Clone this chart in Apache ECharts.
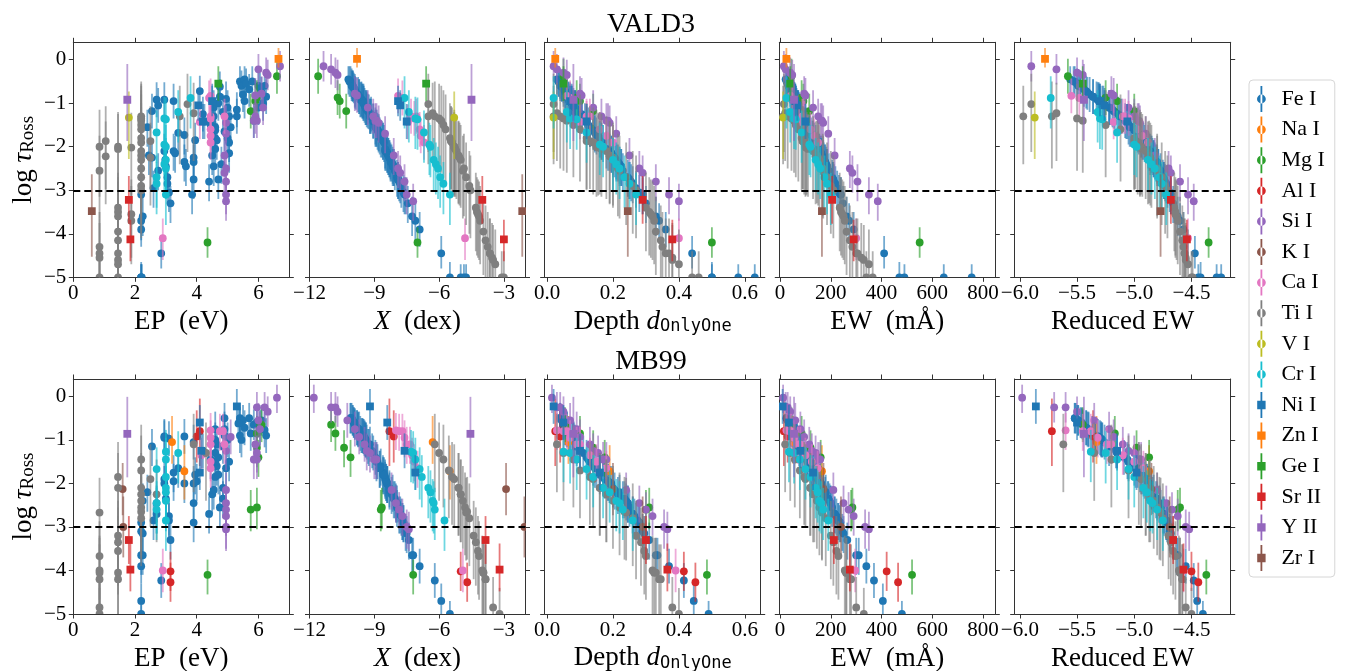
<!DOCTYPE html>
<html><head><meta charset="utf-8">
<script src="https://cdn.jsdelivr.net/npm/echarts@6/dist/echarts.min.js"></script>
<style>html,body{margin:0;padding:0;background:#fff}#c{width:1347px;height:671px}</style>
</head><body><div id="c"></div>
<script>
// Each line: [EP (eV), X (dex), depth d_OnlyOne, EW (mA), reduced EW, log tau_Ross, err down, err up]
const species = ['Fe I','Na I','Mg I','Al I','Si I','K I','Ca I','Ti I','V I','Cr I','Ni I','Zn I','Ge I','Sr II','Y II','Zr I'];
const colors = ['#1f77b4','#ff7f0e','#2ca02c','#d62728','#9467bd','#8c564b','#e377c2','#7f7f7f','#bcbd22','#17becf','#1f77b4','#ff7f0e','#2ca02c','#d62728','#9467bd','#8c564b'];
const markers = ['circle','circle','circle','circle','circle','circle','circle','circle','circle','circle','square','square','square','square','square','square'];
const xTitles = ['EP  (eV)','{i|X}  (dex)','Depth {i|d}{s|OnlyOne}','EW  (mÅ)','Reduced EW'];
const xTickValues = [[0,2,4,6],[-12,-9,-6,-3],[0,0.2,0.4,0.6],[0,200,400,600,800],[-6,-5.5,-5,-4.5]];
const xMinValues = [0,-12,-0.007,-3,-6.045];
const xMaxValues = [7,-2,0.648,848,-4.157];
const yTickValues = [-5,-4,-3,-2,-1,0];
const yMinValue = -5, yMaxValue = 0.4, refLevel = -3;
const rowTitles = ['VALD3','MB99'];

// ---------------- VALD3 ----------------
const vald_FeI = [
[2.20,-7.60,0.29,238,-4.68,-3.10,0.45,0.40],[2.20,-7.10,0.34,272,-4.60,-3.70,0.45,0.40],[2.20,-6.90,0.36,290,-4.57,-3.90,0.40,0.40],
[2.25,-7.25,0.33,262,-4.62,-3.60,0.45,0.45],[2.20,-5.50,0.50,470,-4.42,-5.00,0.30,0.35],[2.20,-5.00,0.50,490,-4.44,-5.00,0.30,0.30],
[2.20,-4.85,0.58,645,-4.28,-5.00,0.30,0.30],[2.22,-4.75,0.63,755,-4.24,-5.00,0.30,0.30],[2.40,-8.90,0.13,108,-5.02,-1.55,0.45,0.40],
[2.45,-8.35,0.20,165,-4.84,-2.20,0.45,0.40],[2.55,-9.30,0.09,76,-5.18,-1.18,0.40,0.40],[2.55,-8.30,0.205,168,-4.83,-2.25,0.45,0.40],
[2.70,-9.60,0.065,56,-5.32,-0.92,0.40,0.40],[2.75,-9.45,0.08,65,-5.26,-1.05,0.40,0.40],[2.75,-8.05,0.23,192,-4.77,-2.55,0.45,0.40],
[2.85,-5.90,0.44,410,-4.47,-4.45,0.35,0.40],[2.95,-9.65,0.07,57,-5.31,-0.92,0.40,0.40],[2.95,-8.45,0.19,155,-4.86,-2.10,0.45,0.40],
[2.98,-8.25,0.21,172,-4.82,-2.30,0.45,0.40],[3.05,-7.95,0.245,205,-4.75,-2.70,0.45,0.40],[3.05,-7.80,0.26,218,-4.72,-2.85,0.45,0.40],
[3.10,-7.65,0.28,232,-4.69,-3.05,0.45,0.40],[3.25,-9.55,0.07,60,-5.30,-0.95,0.40,0.40],[3.25,-8.50,0.185,152,-4.87,-2.10,0.45,0.40],
[3.30,-8.40,0.195,160,-4.85,-2.15,0.45,0.40],[3.60,-8.75,0.15,122,-4.96,-1.73,0.45,0.40],[3.60,-8.20,0.215,178,-4.80,-2.35,0.45,0.40],
[3.65,-8.15,0.22,185,-4.79,-2.45,0.45,0.40],[3.90,-8.30,0.20,170,-4.83,-2.25,0.45,0.40],[3.90,-8.25,0.21,176,-4.81,-2.35,0.45,0.40],
[3.90,-7.90,0.25,210,-4.74,-2.75,0.45,0.40],[3.85,-7.55,0.29,240,-4.68,-3.10,0.45,0.40],[4.10,-9.90,0.055,42,-5.42,-0.72,0.40,0.35],
[4.25,-9.05,0.12,97,-5.07,-1.42,0.40,0.40],[4.50,-9.50,0.075,60,-5.30,-0.95,0.40,0.40],[4.55,-9.40,0.085,70,-5.22,-1.10,0.40,0.40],
[4.55,-9.20,0.105,88,-5.12,-1.30,0.40,0.40],[4.60,-8.90,0.13,106,-5.03,-1.55,0.45,0.40],[4.60,-8.85,0.14,114,-5.00,-1.62,0.45,0.40],
[4.60,-8.65,0.16,130,-4.94,-1.80,0.45,0.40],[4.60,-8.50,0.18,150,-4.88,-2.05,0.45,0.40],[4.55,-8.10,0.225,186,-4.79,-2.45,0.45,0.40],
[4.75,-10.00,0.045,36,-5.47,-0.62,0.35,0.35],[4.75,-9.70,0.06,50,-5.36,-0.85,0.40,0.40],[4.70,-9.50,0.075,62,-5.28,-1.00,0.40,0.40],
[4.80,-8.15,0.22,182,-4.80,-2.40,0.45,0.40],[4.70,-7.90,0.25,208,-4.74,-2.75,0.45,0.40],[4.95,-9.60,0.065,54,-5.33,-0.90,0.40,0.40],
[5.00,-9.35,0.085,72,-5.21,-1.10,0.40,0.40],[5.05,-9.15,0.105,90,-5.11,-1.30,0.40,0.40],[5.00,-8.70,0.16,128,-4.94,-1.80,0.45,0.40],
[5.05,-8.40,0.195,162,-4.85,-2.15,0.45,0.40],[5.05,-8.55,0.17,140,-4.91,-1.90,0.45,0.40],[5.30,-9.35,0.09,75,-5.19,-1.15,0.40,0.40],
[5.30,-9.20,0.10,86,-5.13,-1.30,0.40,0.40],[5.40,-10.10,0.035,26,-5.52,-0.50,0.35,0.35],[5.45,-10.00,0.045,34,-5.48,-0.60,0.35,0.35],
[5.55,-10.20,0.03,22,-5.56,-0.45,0.35,0.30],[5.60,-10.05,0.04,30,-5.50,-0.55,0.35,0.35],[5.55,-9.55,0.07,58,-5.31,-0.95,0.40,0.40],
[5.80,-10.15,0.035,27,-5.53,-0.50,0.35,0.35],[5.85,-9.05,0.115,95,-5.08,-1.40,0.40,0.40],[6.00,-10.00,0.04,33,-5.49,-0.60,0.35,0.35],
[6.05,-9.95,0.05,38,-5.45,-0.65,0.35,0.35],[6.10,-9.85,0.055,44,-5.41,-0.75,0.40,0.35],[6.15,-9.50,0.075,63,-5.27,-1.00,0.40,0.40],
[6.20,-10.05,0.045,35,-5.47,-0.60,0.35,0.35],[6.00,-9.40,0.085,70,-5.22,-1.10,0.40,0.40],
[4.45,-8.95,0.125,102,-5.05,-1.50,0.45,0.40],[4.65,-8.60,0.165,135,-4.92,-1.85,0.45,0.40],[4.50,-8.35,0.20,160,-4.86,-2.20,0.45,0.40],
[4.85,-9.25,0.095,80,-5.17,-1.20,0.40,0.40],[5.10,-8.95,0.13,104,-5.04,-1.55,0.45,0.40],[3.00,-8.10,0.225,183,-4.80,-2.45,0.45,0.40],
[3.95,-8.60,0.165,133,-4.93,-1.85,0.45,0.40],[3.40,-8.80,0.145,118,-4.97,-1.68,0.45,0.40],[4.20,-9.15,0.105,85,-5.14,-1.25,0.40,0.40],
[5.50,-9.75,0.06,46,-5.39,-0.80,0.40,0.40],[5.70,-9.90,0.05,40,-5.44,-0.68,0.40,0.35],[6.25,-9.70,0.06,50,-5.36,-0.85,0.40,0.40],
[2.60,-7.75,0.27,225,-4.71,-2.95,0.45,0.40],[3.15,-7.45,0.30,248,-4.66,-3.30,0.45,0.40],[4.40,-7.85,0.255,212,-4.73,-2.80,0.45,0.40],
[4.90,-8.80,0.145,118,-4.97,-1.65,0.45,0.40]
];
const vald_NaI = [];
const vald_MgI = [
[6.60,-11.60,0.05,45,-5.58,-0.38,0.40,0.40],[5.95,-10.70,0.09,85,-5.25,-0.87,0.40,0.40],[5.90,-10.60,0.10,92,-5.15,-0.95,0.40,0.40],
[5.75,-10.30,0.14,115,-5.00,-1.18,0.40,0.40],[4.35,-7.00,0.50,550,-4.35,-4.20,0.35,0.35]
];
const vald_AlI = [];
const vald_SiI = [
[6.70,-11.35,0.02,15,-5.90,-0.15,0.35,0.35],[6.00,-11.00,0.03,22,-5.68,-0.22,0.35,0.35],[6.25,-10.80,0.05,40,-5.50,-0.30,0.35,0.35],
[6.30,-10.70,0.06,48,-5.45,-0.35,0.35,0.35],[6.10,-9.90,0.10,95,-5.20,-0.78,0.40,0.40],[5.90,-9.80,0.105,100,-5.18,-0.82,0.40,0.40],
[6.15,-9.30,0.14,130,-5.05,-1.10,0.40,0.40],[5.90,-9.05,0.165,150,-5.00,-1.30,0.40,0.40],[5.95,-8.95,0.18,160,-4.97,-1.40,0.40,0.40],
[5.85,-8.90,0.185,165,-4.96,-1.40,0.40,0.40],[4.95,-8.80,0.19,170,-4.95,-1.45,0.45,0.40],[4.95,-8.50,0.21,190,-4.90,-1.70,0.45,0.40],
[4.90,-8.10,0.25,215,-4.82,-2.20,0.45,0.40],[4.95,-7.90,0.28,275,-4.70,-2.50,0.45,0.40],[4.90,-7.80,0.29,285,-4.68,-2.60,0.45,0.40],
[4.95,-7.60,0.33,305,-4.60,-2.80,0.45,0.40],[4.95,-7.50,0.37,350,-4.53,-3.10,0.45,0.40],[4.95,-7.20,0.40,385,-4.48,-3.25,0.45,0.40]
];
const vald_KI = [];
const vald_CaI = [
[4.45,-7.90,0.06,42,-5.55,-0.83,0.40,0.40],[4.40,-7.70,0.07,48,-5.48,-0.88,0.40,0.40],[4.10,-7.45,0.10,75,-5.18,-1.43,0.40,0.40],
[4.45,-7.30,0.12,88,-5.10,-1.30,0.40,0.40],[4.90,-7.05,0.13,92,-5.08,-1.30,0.40,0.40],[4.45,-7.15,0.12,95,-5.05,-1.35,0.40,0.40],
[4.45,-6.90,0.16,120,-4.97,-1.60,0.40,0.40],[4.45,-6.85,0.18,135,-4.93,-1.75,0.40,0.40],[4.45,-6.70,0.20,150,-4.88,-1.90,0.40,0.40],
[2.90,-4.80,0.40,300,-4.53,-4.10,0.50,0.45]
];
const vald_TiI = [
[0.85,-5.30,0.15,100,-4.95,-2.00,1.15,0.85],[0.85,-4.90,0.22,170,-4.80,-2.55,1.10,0.80],[0.85,-3.75,0.35,285,-4.57,-4.30,1.00,0.80],
[0.85,-3.65,0.36,300,-4.56,-4.45,1.00,0.80],[0.85,-3.55,0.38,320,-4.55,-4.55,1.00,0.80],[0.85,-3.00,0.44,340,-4.50,-5.00,1.00,0.60],
[1.05,-5.45,0.13,88,-5.00,-1.87,1.10,0.80],[1.05,-5.10,0.19,140,-4.88,-2.22,1.10,0.80],[1.45,-5.30,0.16,105,-4.94,-2.00,1.10,0.80],
[1.45,-5.25,0.165,110,-4.93,-2.05,1.10,0.80],[1.45,-4.30,0.30,235,-4.65,-3.40,1.00,0.80],[1.45,-4.25,0.31,240,-4.64,-3.50,1.00,0.80],
[1.45,-4.15,0.32,250,-4.63,-3.60,1.00,0.80],[1.45,-3.95,0.33,262,-4.60,-3.95,1.00,0.80],[1.45,-3.85,0.345,275,-4.58,-4.15,1.00,0.80],
[1.45,-3.65,0.37,305,-4.56,-4.45,1.00,0.80],[1.45,-3.50,0.38,330,-4.55,-4.60,1.00,0.80],[1.45,-3.40,0.40,350,-4.53,-4.70,1.00,0.80],
[1.45,-3.10,0.46,365,-4.49,-5.00,1.00,0.60],[1.88,-5.30,0.155,102,-4.95,-2.02,1.10,0.80],[1.88,-4.20,0.315,245,-4.64,-3.55,1.00,0.80],
[1.88,-4.10,0.325,255,-4.62,-3.70,1.00,0.80],[2.20,-6.20,0.04,30,-5.72,-1.30,1.20,0.80],[2.20,-6.00,0.05,45,-5.50,-1.35,1.20,0.80],
[2.20,-5.90,0.06,55,-5.45,-1.40,1.20,0.80],[2.20,-5.80,0.08,62,-5.25,-1.50,1.20,0.80],[2.20,-5.70,0.10,72,-5.12,-1.60,1.20,0.80],
[2.20,-5.50,0.12,85,-5.00,-1.80,1.20,0.80],[2.20,-5.40,0.14,95,-4.97,-1.90,1.20,0.80],[2.20,-5.20,0.18,130,-4.90,-2.10,1.10,0.80],
[2.20,-5.10,0.19,145,-4.87,-2.20,1.10,0.80],[2.20,-5.00,0.20,155,-4.85,-2.30,1.10,0.80],[2.20,-4.85,0.215,168,-4.80,-2.50,1.10,0.80],
[2.20,-4.75,0.24,185,-4.76,-2.70,1.10,0.80],[2.20,-4.60,0.26,200,-4.73,-2.90,1.10,0.80],[2.20,-4.55,0.27,210,-4.71,-3.00,1.10,0.80],
[2.50,-5.45,0.12,90,-4.99,-1.87,1.10,0.80],[2.50,-5.05,0.20,150,-4.86,-2.25,1.10,0.80],[3.70,-6.50,0.02,15,-5.90,-1.02,1.10,0.70],
[3.45,-6.50,0.02,12,-5.97,-1.30,1.10,0.70],[3.90,-6.30,0.03,20,-5.68,-1.23,1.10,0.70]
];
const vald_VI = [[1.80,-5.30,0.02,12,-5.87,-1.33,0.95,0.60]];
const vald_CrI = [
[3.80,-7.60,0.02,25,-5.73,-0.88,0.70,0.50],[3.40,-7.40,0.06,40,-5.32,-1.20,0.70,0.50],[2.95,-7.10,0.07,55,-5.30,-1.35,0.70,0.50],
[3.00,-7.00,0.09,62,-5.28,-1.37,0.70,0.50],[2.70,-6.70,0.12,85,-5.15,-1.67,0.70,0.50],[2.95,-6.45,0.16,115,-5.00,-1.95,0.70,0.50],
[3.00,-6.40,0.17,120,-4.98,-2.00,0.70,0.50],[3.00,-6.25,0.20,140,-4.88,-2.30,0.70,0.50],[2.95,-6.15,0.21,150,-4.85,-2.40,0.70,0.50],
[3.00,-6.05,0.22,158,-4.82,-2.50,0.70,0.50],[2.70,-5.95,0.235,175,-4.78,-2.70,0.70,0.50],[2.70,-5.80,0.25,185,-4.76,-2.85,0.70,0.50],
[3.00,-5.50,0.27,200,-4.72,-3.10,0.70,0.50]
];
const vald_NiI = [[4.50,-7.90,0.07,60,-5.30,-0.95,0.35,0.35],[4.05,-7.80,0.08,68,-5.26,-1.05,0.35,0.35],[4.20,-7.50,0.12,100,-5.06,-1.42,0.40,0.40]];
const vald_ZnI = [[6.65,-9.80,0.025,25,-5.78,0.02,0.20,0.25]];
const vald_GeI = [[4.70,-6.60,0.05,40,-5.45,-0.55,0.40,0.40]];
const vald_SrII = [[1.80,-4.00,0.29,205,-4.68,-3.22,0.55,0.55],[1.85,-3.00,0.38,290,-4.54,-4.13,0.50,0.45]];
const vald_YII = [[1.75,-4.50,0.08,55,-5.44,-0.92,0.95,0.82]];
const vald_ZrI = [[0.60,-2.15,0.245,165,-4.77,-3.48,1.05,0.85]];

// ---------------- MB99 ----------------
const mb_FeI = [
[2.20,-7.65,0.28,235,-4.71,-2.90,0.45,0.40],[2.20,-7.55,0.29,245,-4.69,-3.10,0.45,0.40],[2.20,-7.20,0.335,310,-4.62,-3.65,0.45,0.40],
[2.20,-6.90,0.37,340,-4.55,-3.90,0.40,0.40],[2.20,-5.90,0.445,405,-4.45,-4.70,0.35,0.40],[2.20,-5.50,0.49,480,-4.40,-5.00,0.30,0.30],
[2.25,-8.00,0.24,195,-4.80,-2.40,0.45,0.40],[2.25,-7.50,0.295,250,-4.68,-3.15,0.45,0.40],[2.25,-7.25,0.33,300,-4.63,-3.65,0.45,0.40],
[2.40,-8.15,0.22,180,-4.83,-2.20,0.45,0.40],[2.55,-9.25,0.09,75,-5.22,-1.15,0.45,0.40],[2.70,-7.95,0.245,198,-4.78,-2.45,0.45,0.40],
[2.70,-7.80,0.26,215,-4.75,-2.70,0.45,0.40],[2.85,-6.20,0.415,370,-4.48,-4.23,0.40,0.40],[2.95,-9.50,0.07,58,-5.32,-0.92,0.40,0.40],
[2.95,-9.45,0.075,62,-5.30,-0.95,0.40,0.40],[2.95,-8.50,0.175,148,-4.91,-1.90,0.45,0.40],[2.95,-8.40,0.19,160,-4.88,-2.00,0.45,0.40],
[3.10,-9.45,0.08,64,-5.29,-0.97,0.40,0.40],[3.10,-7.75,0.265,222,-4.74,-2.75,0.45,0.40],[3.10,-7.70,0.275,230,-4.72,-2.85,0.45,0.40],
[3.25,-8.60,0.16,135,-4.95,-1.75,0.45,0.40],[3.25,-8.45,0.185,155,-4.89,-1.95,0.45,0.40],[3.60,-9.50,0.07,58,-5.32,-0.92,0.40,0.40],
[3.60,-8.40,0.19,160,-4.88,-2.00,0.45,0.40],[3.90,-9.35,0.085,68,-5.26,-1.05,0.40,0.40],[3.90,-8.40,0.195,162,-4.87,-2.00,0.45,0.40],
[3.90,-8.00,0.245,200,-4.78,-2.45,0.45,0.40],[3.90,-7.65,0.28,238,-4.71,-2.90,0.45,0.40],[4.00,-8.45,0.185,156,-4.89,-1.95,0.45,0.40],
[4.50,-8.20,0.215,178,-4.84,-2.25,0.45,0.40],[4.60,-9.70,0.06,45,-5.40,-0.75,0.40,0.40],[4.60,-9.40,0.08,65,-5.28,-1.00,0.40,0.40],
[4.60,-9.05,0.11,90,-5.15,-1.30,0.40,0.40],[4.60,-8.85,0.13,110,-5.05,-1.50,0.40,0.40],[4.60,-8.50,0.17,145,-4.92,-1.85,0.45,0.40],
[4.65,-9.20,0.095,78,-5.20,-1.10,0.40,0.40],[4.65,-8.70,0.14,120,-5.00,-1.60,0.45,0.40],[4.75,-7.95,0.25,205,-4.77,-2.55,0.45,0.40],
[4.85,-8.30,0.20,170,-4.86,-2.10,0.45,0.40],[4.85,-8.10,0.23,188,-4.81,-2.35,0.45,0.40],[4.90,-10.10,0.04,25,-5.52,-0.50,0.35,0.35],
[4.90,-9.75,0.06,44,-5.41,-0.75,0.40,0.40],[4.90,-9.55,0.07,55,-5.34,-0.90,0.40,0.40],[5.00,-9.40,0.08,66,-5.28,-1.00,0.40,0.40],
[5.40,-10.05,0.04,27,-5.51,-0.50,0.35,0.35],[5.40,-9.95,0.05,34,-5.47,-0.60,0.35,0.35],[5.40,-9.55,0.07,54,-5.34,-0.90,0.40,0.40],
[5.45,-9.40,0.08,64,-5.29,-1.00,0.40,0.40],[5.50,-10.00,0.045,30,-5.49,-0.55,0.35,0.35],[5.70,-10.10,0.04,26,-5.52,-0.50,0.35,0.35],
[5.85,-9.90,0.05,37,-5.45,-0.65,0.35,0.35],[6.10,-10.00,0.045,31,-5.49,-0.55,0.35,0.35],[6.20,-9.75,0.06,46,-5.40,-0.77,0.40,0.40],
[5.95,-9.95,0.05,35,-5.46,-0.60,0.35,0.35],[6.05,-9.80,0.055,42,-5.42,-0.72,0.40,0.40],[4.70,-8.95,0.12,100,-5.09,-1.40,0.40,0.40],
[4.45,-8.90,0.125,105,-5.06,-1.45,0.45,0.40],[4.70,-8.60,0.16,140,-4.94,-1.80,0.45,0.40],[4.55,-8.30,0.205,170,-4.85,-2.15,0.45,0.40],
[4.85,-9.30,0.09,78,-5.20,-1.15,0.40,0.40],[5.05,-8.90,0.13,108,-5.05,-1.50,0.45,0.40],[3.00,-8.05,0.235,190,-4.80,-2.35,0.45,0.40],
[3.95,-8.55,0.17,140,-4.93,-1.80,0.45,0.40],[3.40,-8.75,0.15,122,-4.97,-1.65,0.45,0.40],[4.20,-9.10,0.10,85,-5.16,-1.25,0.40,0.40],
[5.55,-9.80,0.055,42,-5.42,-0.72,0.40,0.40],[5.75,-9.65,0.065,50,-5.37,-0.85,0.40,0.40],[6.25,-9.60,0.07,55,-5.34,-0.90,0.40,0.40],
[2.60,-7.70,0.27,228,-4.72,-2.85,0.45,0.40],[3.15,-7.40,0.31,265,-4.66,-3.30,0.45,0.40],[4.40,-7.85,0.26,215,-4.74,-2.70,0.45,0.40],
[4.95,-8.75,0.145,125,-4.99,-1.65,0.45,0.40],[5.35,-9.90,0.05,36,-5.46,-0.62,0.35,0.35]
];
const mb_NaI = [[3.20,-6.30,0.065,52,-5.33,-1.05,0.50,0.60],[3.60,-5.50,0.19,165,-4.87,-1.72,0.65,0.60]];
const mb_MgI = [
[6.10,-11.00,0.055,45,-5.45,-0.65,0.40,0.40],[5.95,-10.80,0.10,85,-5.17,-0.85,0.40,0.40],[5.95,-10.40,0.14,120,-4.98,-1.18,0.45,0.40],
[6.00,-10.10,0.175,160,-4.87,-1.40,0.45,0.40],[5.75,-8.70,0.30,280,-4.62,-2.60,0.50,0.45],[5.95,-8.65,0.31,285,-4.60,-2.55,0.50,0.45],
[4.35,-7.20,0.485,520,-4.37,-4.10,0.45,0.35]
];
const mb_AlI = [[4.10,-8.30,0.025,15,-5.72,-0.80,0.80,0.75],[4.00,-8.10,0.04,30,-5.36,-0.92,0.60,0.60],[3.15,-5.00,0.415,420,-4.50,-4.02,0.45,0.45],[3.15,-4.70,0.45,465,-4.44,-4.27,0.45,0.45]];
const mb_SiI = [
[6.60,-11.80,0.015,12,-5.98,-0.03,0.35,0.30],[6.20,-11.00,0.03,22,-5.70,-0.25,0.35,0.35],[5.95,-10.80,0.04,30,-5.60,-0.25,0.35,0.35],
[6.30,-10.70,0.05,40,-5.50,-0.35,0.35,0.35],[6.00,-10.25,0.07,60,-5.35,-0.55,0.40,0.40],[6.05,-9.90,0.09,80,-5.22,-0.75,0.40,0.40],
[5.10,-9.70,0.10,95,-5.18,-0.93,0.40,0.40],[5.90,-9.45,0.13,115,-5.10,-1.10,0.40,0.40],[4.95,-9.35,0.14,125,-5.05,-1.25,0.45,0.40],
[5.95,-9.20,0.155,140,-5.00,-1.30,0.45,0.40],[5.95,-9.00,0.17,150,-4.96,-1.45,0.45,0.40],[5.85,-8.90,0.18,158,-4.94,-1.45,0.45,0.40],
[4.95,-8.20,0.24,210,-4.80,-2.15,0.45,0.40],[4.95,-8.00,0.28,250,-4.72,-2.45,0.45,0.40],[4.95,-7.85,0.30,270,-4.67,-2.60,0.45,0.40],
[4.95,-7.70,0.32,290,-4.62,-2.75,0.45,0.40],[4.95,-7.50,0.355,335,-4.55,-3.00,0.50,0.40],[4.95,-7.40,0.365,350,-4.52,-3.05,0.50,0.40]
];
const mb_KI = [[1.60,-2.90,0.20,171,-4.85,-2.13,0.60,0.60],[1.62,-2.05,0.29,240,-4.69,-3.00,0.70,0.70]];
const mb_CaI = [
[4.45,-8.00,0.03,25,-5.60,-0.78,0.45,0.40],[4.75,-7.85,0.05,38,-5.45,-0.80,0.45,0.40],[4.85,-7.70,0.06,45,-5.38,-0.80,0.45,0.40],
[4.45,-7.60,0.07,55,-5.32,-0.95,0.45,0.40],[4.45,-7.50,0.09,70,-5.24,-1.10,0.45,0.40],[4.90,-7.35,0.10,80,-5.20,-1.10,0.45,0.40],
[4.15,-7.25,0.13,100,-5.10,-1.35,0.45,0.40],[4.45,-7.15,0.15,125,-5.00,-1.50,0.45,0.40],[4.45,-7.00,0.18,148,-4.92,-1.65,0.45,0.40],
[2.90,-4.90,0.39,296,-4.57,-4.00,0.50,0.50]
];
const mb_TiI = [
[0.85,-4.75,0.24,165,-4.77,-2.67,1.10,0.80],[0.85,-4.15,0.30,230,-4.64,-3.67,1.00,0.80],[0.85,-4.00,0.32,255,-4.61,-4.00,1.00,0.80],
[0.85,-3.95,0.325,260,-4.60,-4.05,1.00,0.80],[0.85,-3.85,0.34,275,-4.58,-4.20,1.00,0.80],[0.85,-3.50,0.38,300,-4.55,-4.85,1.00,0.70],
[0.85,-3.20,0.40,330,-4.50,-5.00,1.00,0.60],[1.45,-5.40,0.13,95,-4.96,-1.85,1.10,0.80],[1.45,-5.10,0.16,118,-4.90,-2.10,1.10,0.80],
[1.45,-4.40,0.27,200,-4.70,-3.20,1.00,0.80],[1.45,-4.30,0.285,210,-4.68,-3.35,1.00,0.80],[1.45,-4.20,0.295,222,-4.66,-3.55,1.00,0.80],
[1.45,-3.95,0.33,262,-4.60,-4.05,1.00,0.80],[1.45,-3.85,0.345,280,-4.58,-4.20,1.00,0.80],[2.20,-5.80,0.08,58,-5.20,-1.45,1.10,0.80],
[2.20,-5.55,0.10,78,-5.05,-1.70,1.10,0.80],[2.20,-5.10,0.16,120,-4.90,-2.10,1.10,0.80],[2.20,-5.00,0.18,135,-4.86,-2.25,1.10,0.80],
[2.20,-4.90,0.20,145,-4.83,-2.40,1.10,0.80],[2.20,-4.80,0.22,155,-4.80,-2.55,1.10,0.80],[2.20,-4.70,0.235,165,-4.78,-2.65,1.10,0.80],
[2.20,-4.60,0.26,180,-4.75,-2.80,1.10,0.80],[2.50,-5.30,0.14,100,-4.94,-1.90,1.10,0.80],[2.70,-5.00,0.18,130,-4.87,-2.25,1.10,0.80],
[3.90,-6.20,0.03,20,-5.62,-1.10,1.10,0.70],[4.30,-6.00,0.05,40,-5.35,-1.30,1.10,0.70]
];
const mb_VI = [];
const mb_CrI = [
[3.00,-7.30,0.05,35,-5.38,-1.27,0.70,0.50],[3.40,-7.20,0.07,55,-5.25,-1.30,0.70,0.50],[3.00,-7.10,0.09,78,-5.15,-1.45,0.70,0.50],
[2.70,-6.90,0.12,100,-5.05,-1.67,0.70,0.50],[3.00,-6.80,0.14,120,-5.00,-1.85,0.70,0.50],[3.00,-6.50,0.17,140,-4.92,-2.10,0.70,0.50],
[3.00,-6.40,0.19,148,-4.89,-2.20,0.70,0.50],[3.00,-6.30,0.21,155,-4.86,-2.40,0.70,0.50],[2.70,-6.25,0.22,162,-4.84,-2.45,0.70,0.50],
[2.70,-6.20,0.23,170,-4.80,-2.60,0.70,0.50],[3.00,-5.75,0.26,190,-4.75,-2.85,0.70,0.50]
];
const mb_NiI = [[5.30,-9.20,0.02,10,-5.86,-0.23,0.40,0.40],[4.10,-8.40,0.05,35,-5.50,-0.60,0.40,0.40],[4.15,-7.60,0.10,80,-5.15,-1.25,0.40,0.40],[4.10,-7.10,0.16,130,-4.98,-1.75,0.40,0.40]];
const mb_ZnI = [];
const mb_GeI = [];
const mb_SrII = [[1.80,-3.85,0.30,212,-4.66,-3.30,0.55,0.55],[1.85,-3.20,0.365,275,-4.57,-3.98,0.50,0.60]];
const mb_YII = [[1.75,-4.55,0.08,55,-5.44,-0.86,1.00,0.85]];
const mb_ZrI = [];

const valdTable = [vald_FeI,vald_NaI,vald_MgI,vald_AlI,vald_SiI,vald_KI,vald_CaI,vald_TiI,vald_VI,vald_CrI,vald_NiI,vald_ZnI,vald_GeI,vald_SrII,vald_YII,vald_ZrI];
const mbTable = [mb_FeI,mb_NaI,mb_MgI,mb_AlI,mb_SiI,mb_KI,mb_CaI,mb_TiI,mb_VI,mb_CrI,mb_NiI,mb_ZnI,mb_GeI,mb_SrII,mb_YII,mb_ZrI];
const tables = [valdTable, mbTable];

// ---------------- layout & styling ----------------
const FONT = 'Liberation Serif';
const colLeft = [73.3, 309.5, 544.7, 779.3, 1014.7];
const rowTop = [42.3, 379];
const PW = 216, PH = 235;
const spine = {color:'#333', width:1};
const minus = s => String(s).replace('-', '\u2212');
const fmt = [v=>minus(v), v=>minus(v), v=>minus(v.toFixed(1)), v=>minus(v), v=>minus(v.toFixed(1))];

function barRender(color){
  return function(params, api){
    const x = api.value(0), y = api.value(1), lo = api.value(2), hi = api.value(3);
    const a = api.coord([x, y + hi]), b = api.coord([x, y - lo]);
    return {type:'line', shape:{x1:a[0], y1:a[1], x2:b[0], y2:b[1]}, style:{stroke:color, lineWidth:1.8, opacity:0.62}};
  };
}
function markRender(color, shape){
  return function(params, api){
    const c = api.coord([api.value(0), api.value(1)]);
    if (shape === 'circle') return {type:'circle', shape:{cx:c[0], cy:c[1], r:3.9}, style:{fill:color}};
    return {type:'rect', shape:{x:c[0]-3.9, y:c[1]-3.9, width:7.8, height:7.8}, style:{fill:color}};
  };
}

const grids = [], xAxes = [], yAxes = [], series = [];
const nameRich = {
  i:{fontFamily:FONT, fontSize:27, fontStyle:'italic', color:'#000'},
  s:{fontFamily:'DejaVu Sans Mono', fontSize:17, color:'#000', verticalAlign:'bottom', lineHeight:17, padding:[13,0,0,0]}
};
for (let r = 0; r < 2; r++) {
  for (let p = 0; p < 5; p++) {
    const gi = r*5 + p;
    grids.push({left:colLeft[p], top:rowTop[r], width:PW, height:PH, containLabel:false, outerBoundsMode:'none'});
    const xb = {min:xMinValues[p], max:xMaxValues[p], type:'value', gridIndex:gi, splitLine:{show:false}};
    xAxes.push(Object.assign({}, xb, {
      position:'bottom',
      axisLine:{onZero:false, lineStyle:spine},
      axisTick:{customValues:xTickValues[p], length:4.5, lineStyle:spine},
      axisLabel:{customValues:xTickValues[p], formatter:fmt[p], margin:6, fontSize:21, fontFamily:FONT, color:'#000'},
      name:xTitles[p], nameLocation:'middle', nameGap:p===2?29:31,
      nameTextStyle:{fontFamily:FONT, fontSize:27, color:'#000', rich:nameRich}
    }));
    xAxes.push(Object.assign({}, xb, {
      position:'top',
      axisLine:{onZero:false, lineStyle:spine},
      axisTick:{customValues:xTickValues[p], length:4.5, lineStyle:spine},
      axisLabel:{show:false}
    }));
    const yb = {min:yMinValue, max:yMaxValue, type:'value', gridIndex:gi, splitLine:{show:false}};
    yAxes.push(Object.assign({}, yb, {
      position:'left',
      axisLine:{onZero:false, lineStyle:spine},
      axisTick:{customValues:yTickValues, length:4.5, lineStyle:spine},
      axisLabel:{show:p===0, customValues:yTickValues, formatter:v=>minus(v), margin:7, fontSize:21, fontFamily:FONT, color:'#000'},
      name:p===0 ? '{a|log }{b|τ}{c|Ross}' : '', nameLocation:'middle', nameRotate:90, nameGap:36,
      nameTextStyle:{fontFamily:FONT, fontSize:27, color:'#000', rich:{
        a:{fontFamily:FONT, fontSize:27, color:'#000'},
        b:{fontFamily:FONT, fontSize:27, fontStyle:'italic', color:'#000'},
        c:{fontFamily:FONT, fontSize:19, color:'#000', verticalAlign:'bottom', lineHeight:19, padding:[12,0,0,0]}
      }}
    }));
    yAxes.push(Object.assign({}, yb, {
      position:'right',
      axisLine:{onZero:false, lineStyle:spine},
      axisTick:{customValues:yTickValues, length:4.5, lineStyle:spine},
      axisLabel:{show:false}
    }));
    const table = tables[r];
    species.forEach((name, si) => {
      const lines = table[si];
      if (!lines.length) return;
      const data = lines.map(l => [l[p], l[5], l[6], l[7]]);
      const common = {type:'custom', name, xAxisIndex:2*gi, yAxisIndex:2*gi, clip:true, silent:true,
        data, encode:{x:0, y:1}, itemStyle:{color:colors[si]}, animation:false};
      series.push(Object.assign({}, common, {renderItem:barRender(colors[si]), z:2}));
      series.push(Object.assign({}, common, {renderItem:markRender(colors[si], markers[si]), z:2}));
    });
    series.push({type:'line', xAxisIndex:2*gi, yAxisIndex:2*gi, data:[], silent:true, z:5, animation:false,
      markLine:{silent:true, symbol:'none', animation:false, label:{show:false},
        lineStyle:{color:'#000', type:[7,4], width:2}, data:[{yAxis:refLevel}]}});
  }
}

const circIcon = 'path://M5.1,0h1.8v26h-1.8z M1.6,13a4.4,4.4 0 1,0 8.8,0a4.4,4.4 0 1,0 -8.8,0z';
const sqIcon = 'path://M5.1,0h1.8v26h-1.8z M1.8,8.8h8.4v8.4h-8.4z';

const chart = echarts.init(document.getElementById('c'), null, {renderer:'canvas'});
chart.setOption({
  animation:false,
  backgroundColor:'#fff',
  grid:grids, xAxis:xAxes, yAxis:yAxes, series,
  legend:{
    orient:'vertical', left:1249, top:80, padding:[6,10,6,8],
    itemWidth:30, itemHeight:26, itemGap:4.6, selectedMode:false,
    borderColor:'#d6d6d6', borderWidth:1, borderRadius:4, backgroundColor:'#fff',
    textStyle:{fontFamily:FONT, fontSize:22, color:'#000'},
    data:species.map((s,i)=>({name:s, icon: markers[i]==='circle' ? circIcon : sqIcon}))
  },
  graphic:[
    {type:'text', x:651, y:25, style:{text:rowTitles[0], fontFamily:FONT, fontSize:28, fill:'#000', textAlign:'center', textVerticalAlign:'middle'}},
    {type:'text', x:651, y:362, style:{text:rowTitles[1], fontFamily:FONT, fontSize:28, fill:'#000', textAlign:'center', textVerticalAlign:'middle'}}
  ]
});
</script></body></html>
